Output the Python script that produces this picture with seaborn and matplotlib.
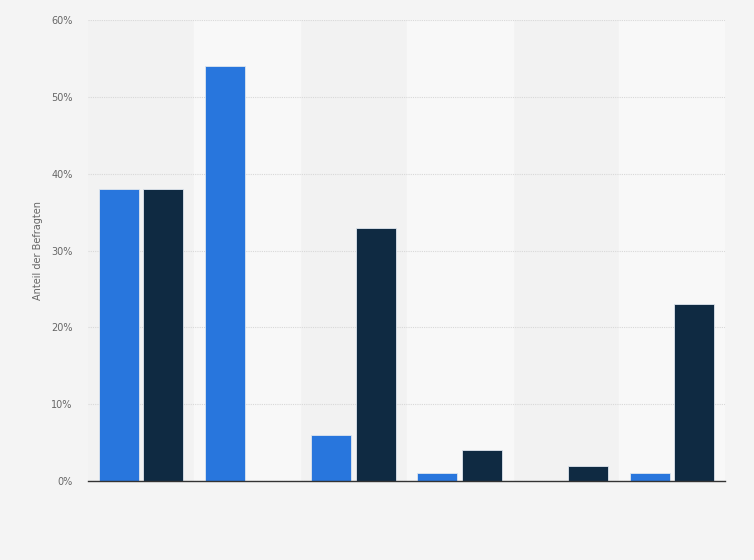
import pandas as pd
import matplotlib
matplotlib.use('Agg')
import matplotlib.pyplot as plt
import seaborn as sns
from matplotlib.ticker import FuncFormatter

# Data (no category labels are shown in the reference)
categories = ['1', '2', '3', '4', '5', '6']
series_names = ['Serie 1', 'Serie 2']
values_blue = [38, 54, 6, 1, 0, 1]
values_dark = [38, 0, 33, 4, 2, 23]

df = pd.DataFrame({
    'Kategorie': categories * 2,
    'Serie': [series_names[0]] * len(categories) + [series_names[1]] * len(categories),
    'Wert': values_blue + values_dark,
})

sns.set_style('white')
plt.rcParams['font.family'] = ['DejaVu Sans']

fig = plt.figure(figsize=(7.54, 5.6), dpi=100)
fig.patch.set_facecolor('#f4f4f4')
ax = fig.add_axes([0.1167, 0.141, 0.845, 0.823])
ax.set_facecolor('#f2f2f2')

# alternating background bands
for i in range(len(categories)):
    if i % 2 == 1:
        ax.axvspan(i - 0.5, i + 0.5, color='#f8f8f8', zorder=0)

sns.barplot(data=df, x='Kategorie', y='Wert', hue='Serie',
            palette=['#2876dd', '#0f2a42'], saturation=1,
            width=0.84, gap=0.1,
            edgecolor='#dfe6ee', linewidth=0.6, ax=ax, zorder=3)

ax.set_xlim(-0.5, len(categories) - 0.5)
ax.set_ylim(0, 60)
ax.set_yticks(range(0, 61, 10))
ax.yaxis.set_major_formatter(FuncFormatter(lambda v, p: f'{int(v)}%'))
ax.grid(axis='y', color='#d8d8d8', linestyle=(0, (1, 1)), linewidth=0.8, zorder=1)
ax.set_axisbelow(True)

ax.set_xticklabels([])
ax.set_xlabel('')
ax.set_ylabel('Anteil der Befragten', fontsize=7, color='#666666', labelpad=6)
ax.tick_params(axis='y', labelsize=7, colors='#666666', length=0, pad=11)
ax.tick_params(axis='x', length=0)

for s in ['top', 'right', 'left']:
    ax.spines[s].set_visible(False)
ax.spines['bottom'].set_color('#333333')
ax.spines['bottom'].set_linewidth(1.0)
ax.spines['bottom'].set_zorder(5)

leg = ax.get_legend()
if leg is not None:
    leg.remove()

fig.savefig('out.png', dpi=100, facecolor=fig.get_facecolor())
